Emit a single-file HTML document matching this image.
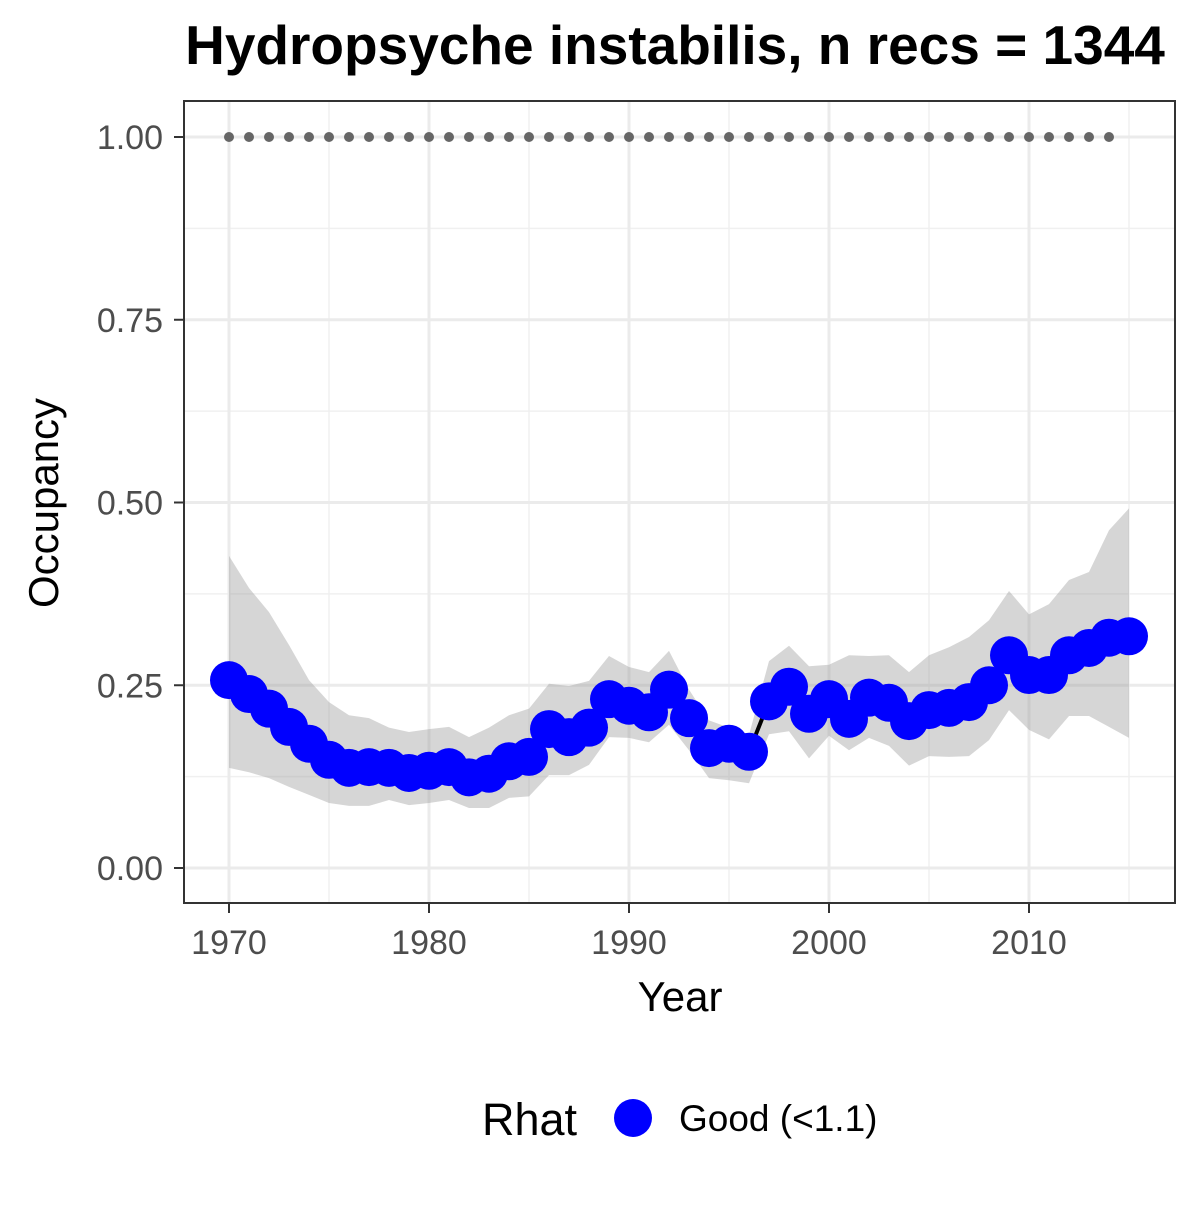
<!DOCTYPE html>
<html><head><meta charset="utf-8"><style>
body{margin:0;background:#fff;}
svg text{font-family:"Liberation Sans",Arial,sans-serif;}
</style></head><body>
<svg id="chart" width="1200" height="1200" xmlns="http://www.w3.org/2000/svg">
<rect width="1200" height="1200" fill="#fff"/>
<text x="675" y="64" font-size="55" font-weight="bold" text-anchor="middle">Hydropsyche instabilis, n recs = 1344</text>
<g id="grid"></g>
<g id="ribbon"></g>
<g id="marks"></g>
<rect x="184" y="101" width="991" height="802" fill="none" stroke="#333" stroke-width="2"/>
<g id="axes"></g>
<text x="680" y="1011" font-size="42" text-anchor="middle">Year</text>
<text transform="translate(58,503) rotate(-90)" font-size="42" text-anchor="middle">Occupancy</text>
<g>
<text x="482" y="1135" font-size="45">Rhat</text>
<circle cx="633" cy="1118" r="19" fill="#0000ff"/>
<text x="679" y="1131" font-size="37">Good (&lt;1.1)</text>
</g>
</svg>
<script>
const years=[];for(let y=1970;y<=2015;y++)years.push(y);
const occupancy=[0.257,0.238,0.218,0.193,0.170,0.148,0.137,0.138,0.137,0.130,0.133,0.138,0.124,0.129,0.146,0.152,0.190,0.179,0.192,0.231,0.222,0.213,0.244,0.205,0.164,0.170,0.159,0.228,0.248,0.211,0.231,0.204,0.233,0.226,0.201,0.216,0.219,0.227,0.250,0.291,0.264,0.264,0.291,0.301,0.315,0.317];
const upper=[0.427,0.383,0.350,0.305,0.257,0.227,0.209,0.205,0.192,0.186,0.190,0.193,0.179,0.192,0.209,0.218,0.252,0.249,0.256,0.290,0.275,0.268,0.297,0.244,0.202,0.192,0.182,0.283,0.304,0.276,0.278,0.291,0.290,0.291,0.268,0.291,0.302,0.316,0.339,0.379,0.347,0.361,0.394,0.405,0.462,0.492];
const lower=[0.137,0.131,0.123,0.111,0.100,0.089,0.085,0.085,0.093,0.086,0.089,0.093,0.082,0.082,0.096,0.098,0.127,0.127,0.141,0.179,0.178,0.172,0.196,0.161,0.123,0.120,0.116,0.183,0.187,0.150,0.181,0.161,0.178,0.167,0.140,0.153,0.152,0.153,0.175,0.216,0.189,0.176,0.208,0.208,0.193,0.178];
const dataYears=[];for(let y=1970;y<=2014;y++)dataYears.push(y);
const dataCoverage=dataYears.map(()=>1.0);
const xTicks=[1970,1980,1990,2000,2010];
const yTicks=[0,0.25,0.5,0.75,1.0];
const yTickLabels=["0.00","0.25","0.50","0.75","1.00"];

const NS="http://www.w3.org/2000/svg";
const X=v=>229+(v-1970)*20;
const Y=v=>868-v*731;
function mk(tag,attrs,parent){const e=document.createElementNS(NS,tag);for(const k in attrs)e.setAttribute(k,attrs[k]);parent.appendChild(e);return e;}
const grid=document.getElementById('grid'),rib=document.getElementById('ribbon'),marks=document.getElementById('marks'),axes=document.getElementById('axes');
for(let i=0;i<xTicks.length-1;i++){const xv=(xTicks[i]+xTicks[i+1])/2;const l=mk('line',{x1:X(xv),x2:X(xv),y1:101,y2:903,stroke:'#f0f0f0','stroke-width':1.5},grid);

}
{const l=mk('line',{x1:X(2015),x2:X(2015),y1:101,y2:903,stroke:'#f0f0f0','stroke-width':1.5},grid);

}
for(let i=0;i<yTicks.length-1;i++){const yv=(yTicks[i]+yTicks[i+1])/2;const l=mk('line',{x1:184,x2:1175,y1:Y(yv),y2:Y(yv),stroke:'#f0f0f0','stroke-width':1.5},grid);

}
xTicks.forEach(t=>{const l=mk('line',{x1:X(t),x2:X(t),y1:101,y2:903,stroke:'#ebebeb','stroke-width':3},grid);


const tk=mk('line',{x1:X(t),x2:X(t),y1:903,y2:913,stroke:'#333','stroke-width':2},axes);


const tx=mk('text',{x:X(t),y:954,'font-size':34,fill:'#4d4d4d','text-anchor':'middle'},axes);tx.textContent=t;

});
yTicks.forEach((t,i)=>{const l=mk('line',{x1:184,x2:1175,y1:Y(t),y2:Y(t),stroke:'#ebebeb','stroke-width':3},grid);


const tk=mk('line',{x1:174,x2:184,y1:Y(t),y2:Y(t),stroke:'#333','stroke-width':2},axes);


const tx=mk('text',{x:163,y:Y(t)+12,'font-size':34,fill:'#4d4d4d','text-anchor':'end'},axes);tx.textContent=yTickLabels[i];

});
let d='';years.forEach((y,i)=>{d+=(i?'L':'M')+X(y)+','+Y(upper[i]);});
for(let i=years.length-1;i>=0;i--)d+='L'+X(years[i])+','+Y(lower[i]);
const rp=mk('path',{d:d+'Z',fill:'#999',opacity:0.4},rib);


const ln=mk('polyline',{points:years.map((y,i)=>X(y)+','+Y(occupancy[i])).join(' '),fill:'none',stroke:'#000','stroke-width':4},marks);


dataYears.forEach((y,i)=>{const c=mk('circle',{cx:X(y),cy:Y(dataCoverage[i]),r:5,fill:'#666'},marks);

});
years.forEach((y,i)=>{const c=mk('circle',{cx:X(y),cy:Y(occupancy[i]),r:19,fill:'#0000ff'},marks);

});
</script>
</body></html>
